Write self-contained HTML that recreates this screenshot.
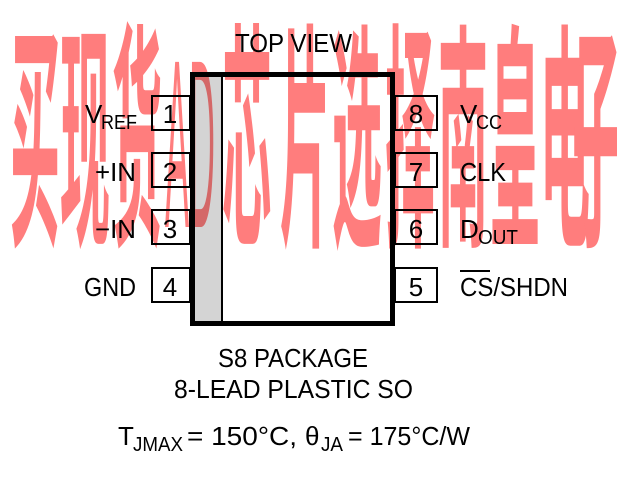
<!DOCTYPE html>
<html><head><meta charset="utf-8"><style>
html,body{margin:0;padding:0;background:#fff;}
svg{display:block;}
</style></head><body>
<svg width="617" height="487" viewBox="0 0 617 487" xmlns="http://www.w3.org/2000/svg" font-family="Liberation Sans, sans-serif" fill="#000">
<rect x="0" y="0" width="617" height="487" fill="#fff"/>
<rect x="195" y="76" width="26" height="246" fill="#d4d4d4"/>
<rect x="192.5" y="74.5" width="200" height="249" fill="none" stroke="#000" stroke-width="5"/>
<line x1="222" y1="76" x2="222" y2="322" stroke="#000" stroke-width="2"/>
<g fill="none" stroke="#000" stroke-width="2">
<rect x="152" y="96" width="38" height="34"/>
<rect x="152" y="153" width="38" height="34"/>
<rect x="152" y="210" width="38" height="34"/>
<rect x="152" y="268" width="38" height="34"/>
<rect x="395" y="96" width="42" height="34"/>
<rect x="395" y="153" width="42" height="34"/>
<rect x="395" y="210" width="42" height="34"/>
<rect x="395" y="268" width="42" height="34"/>
</g>
<g font-size="26" text-anchor="middle">
<text x="170" y="123">1</text><text x="170" y="181">2</text><text x="170" y="238">3</text><text x="170" y="296">4</text>
<text x="416" y="123">8</text><text x="416" y="181">7</text><text x="416" y="238">6</text><text x="416" y="296">5</text>
</g>
<g font-size="26">
<text x="235" y="52" textLength="117" lengthAdjust="spacingAndGlyphs">TOP VIEW</text>
<text x="85" y="123">V</text><text x="101" y="129" font-size="20" textLength="36" lengthAdjust="spacingAndGlyphs">REF</text>
<text x="95" y="181" textLength="41" lengthAdjust="spacingAndGlyphs">+IN</text>
<text x="95" y="238" textLength="41" lengthAdjust="spacingAndGlyphs">−IN</text>
<text x="84" y="296" textLength="52" lengthAdjust="spacingAndGlyphs">GND</text>
<text x="460" y="123">V</text><text x="476" y="129" font-size="20" textLength="26" lengthAdjust="spacingAndGlyphs">CC</text>
<text x="460" y="181" textLength="46" lengthAdjust="spacingAndGlyphs">CLK</text>
<text x="460" y="238">D</text><text x="478" y="244" font-size="20" textLength="40" lengthAdjust="spacingAndGlyphs">OUT</text>
<text x="460" y="296" textLength="108" lengthAdjust="spacingAndGlyphs">CS/SHDN</text>
<line x1="460" y1="271" x2="490" y2="271" stroke="#000" stroke-width="2"/>
<text x="218" y="367" textLength="150" lengthAdjust="spacingAndGlyphs">S8 PACKAGE</text>
<text x="174" y="398" textLength="239" lengthAdjust="spacingAndGlyphs">8-LEAD PLASTIC SO</text>
<text x="118" y="445">T</text><text x="133" y="451" font-size="20" textLength="50" lengthAdjust="spacingAndGlyphs">JMAX</text>
<text x="187" y="445" textLength="110" lengthAdjust="spacingAndGlyphs">= 150°C,</text>
<text x="305" y="445">θ</text><text x="321" y="451" font-size="20" textLength="22" lengthAdjust="spacingAndGlyphs">JA</text>
<text x="348" y="445" textLength="122" lengthAdjust="spacingAndGlyphs">= 175°C/W</text>
</g>
<g style="mix-blend-mode:multiply" fill="#ff7d7d" font-family="Noto Sans CJK SC, WenQuanYi Zen Hei, sans-serif" font-weight="bold" font-size="50">
<g transform="translate(0,227) scale(1,4.8)">
<text x="10" y="0">买</text>
<text x="60" y="0">现</text>
<text x="112" y="0">货</text>
<text x="165" y="0" font-family="Liberation Sans, sans-serif" font-weight="normal" textLength="50" lengthAdjust="spacingAndGlyphs">AD</text>
<text x="222" y="0">芯</text>
<text x="280" y="0">片</text>
<text x="332" y="0">选</text>
<text x="385" y="0">择</text>
<text x="438" y="0">南</text>
<text x="490" y="0">皇</text>
<text x="540" y="0">电</text>
<text x="572" y="0">子</text>
</g>
</g>
</svg>
</body></html>
